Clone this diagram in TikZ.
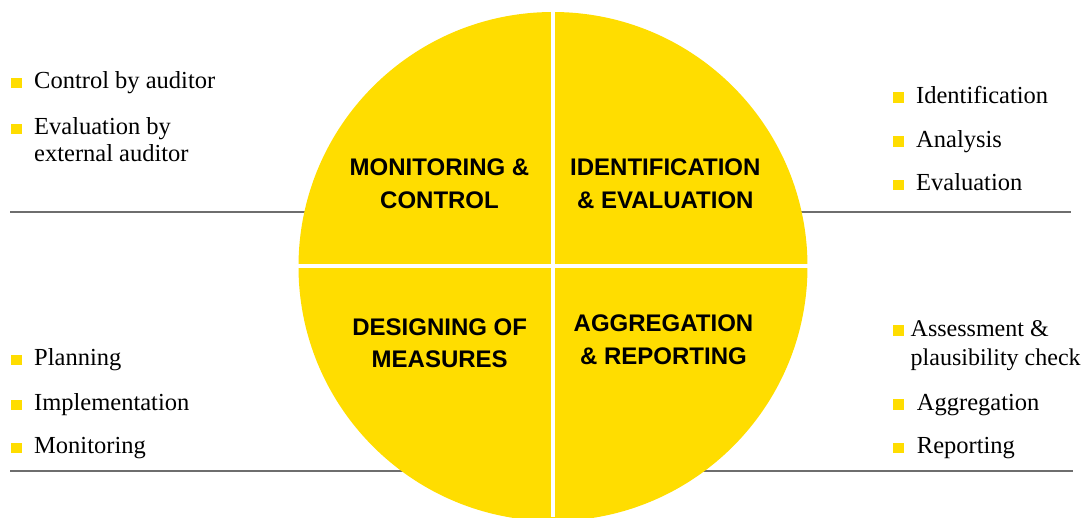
\documentclass[tikz,border=0pt]{standalone}
\usepackage{fontspec}
\setmainfont{Liberation Serif}
\newfontfamily\labelfont{Liberation Sans}
\definecolor{ryellow}{RGB}{255,221,0}
\definecolor{rgray}{RGB}{110,110,110}
\begin{document}
\begin{tikzpicture}[x=1pt,y=-1pt,
  item/.style={anchor=base west, inner sep=0pt, font=\fontsize{24.5}{27}\selectfont, text=black},
  blt/.style={fill=ryellow, minimum size=10.5pt, inner sep=0pt, anchor=south west},
  head/.style={anchor=base, inner sep=0pt, font=\labelfont\bfseries\fontsize{24}{30}\selectfont, text=black},
  rule/.style={draw=rgray, line width=1.6pt}]
\useasboundingbox (0,0) rectangle (1082,517);
% rules (behind the circle)
\coordinate (tl1) at (10,211.7);  \coordinate (tl2) at (420,211.7);
\coordinate (tr1) at (690,211.7); \coordinate (tr2) at (1071,211.7);
\coordinate (bl1) at (10,470.7);  \coordinate (bl2) at (460,470.7);
\coordinate (br1) at (650,470.7); \coordinate (br2) at (1073,470.7);
\draw[rule] (tl1) -- (tl2);
\draw[rule] (tr1) -- (tr2);
\draw[rule] (bl1) -- (bl2);
\draw[rule] (br1) -- (br2);
% circle with white cross
\begin{scope}
\clip (0,0) rectangle (1082,517);
\fill[ryellow] (553,266.5) circle (254.5);
\fill[white] (551,0) rectangle (555,517);
\fill[white] (290,264.2) rectangle (820,267.8);
\end{scope}
% quadrant labels
\node[head] (mc1) at (439.5,175.8) {MONITORING \&};
\node[head] (mc2) at (439.5,208.3) {CONTROL};
\node[head] (ie1) at (665.3,175.8) {IDENTIFICATION};
\node[head] (ie2) at (665.3,208.3) {\& EVALUATION};
\node[head] (dm1) at (439.7,335) {DESIGNING OF};
\node[head] (dm2) at (439.7,367.7) {MEASURES};
\node[head] (ar1) at (663.5,331.7) {AGGREGATION};
\node[head] (ar2) at (663.5,364) {\& REPORTING};
% top left list
\node[blt] (b1) at (11,88.5) {};
\node[item] (t1) at (34,88) {Control by auditor};
\node[blt] (b2) at (11,134.5) {};
\node[item] (t2) at (34,134) {Evaluation by};
\node[item] (t2b) at (34,161) {external auditor};
% top right list
\node[blt] (b3) at (893,103) {};
\node[item] (t3) at (916,103.3) {Identification};
\node[blt] (b4) at (893,147) {};
\node[item] (t4) at (916,147.3) {Analysis};
\node[blt] (b5) at (893,190.5) {};
\node[item] (t5) at (916,190.7) {Evaluation};
% bottom left list
\node[blt] (b6) at (11,365.5) {};
\node[item] (t6) at (34,365) {Planning};
\node[blt] (b7) at (11,410.5) {};
\node[item] (t7) at (34,410) {Implementation};
\node[blt] (b8) at (11,453.5) {};
\node[item] (t8) at (34,453.3) {Monitoring};
% bottom right list
\node[blt] (b9) at (893,336) {};
\node[item, font=\fontsize{24}{27}\selectfont] (t9) at (910.5,336) {Assessment \&};
\node[item, font=\fontsize{24}{27}\selectfont] (t9b) at (910.5,365) {plausibility check};
\node[blt] (b10) at (893,410) {};
\node[item] (t10) at (916.7,410) {Aggregation};
\node[blt] (b11) at (893,453.3) {};
\node[item] (t11) at (916.7,453.3) {Reporting};
\end{tikzpicture}
\end{document}
